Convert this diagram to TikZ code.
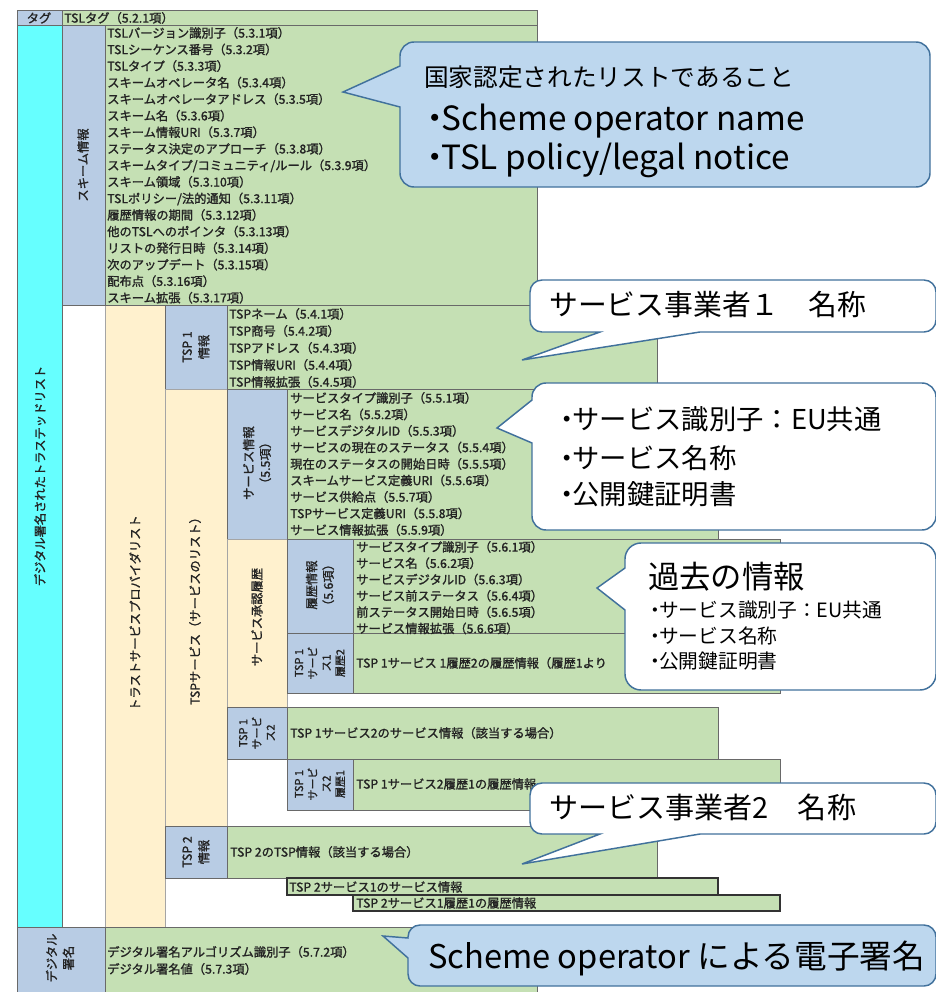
\documentclass[tikz,border=0pt]{standalone}
\usepackage{fontspec}
\setmainfont{Noto Sans CJK JP}
\newfontfamily\tabfont[FakeBold=1.4]{Noto Sans CJK JP}
\definecolor{cgreen}{RGB}{197,224,180}
\definecolor{clblue}{RGB}{184,204,228}
\definecolor{cbeige}{RGB}{255,241,206}
\definecolor{ccyan}{RGB}{102,255,255}
\definecolor{cline}{RGB}{105,105,105}
\definecolor{calfill}{RGB}{189,215,238}
\definecolor{caledge}{RGB}{65,113,156}
\definecolor{ctxt}{RGB}{35,35,35}
\newcommand{\dotb}{・\kern-.3em}
\begin{document}
\begin{tikzpicture}[x=0.75pt,y=-0.75pt,
  cellG/.style={fill=cgreen,draw=cline,line width=0.6pt},
  cellB/.style={fill=clblue,draw=cline,line width=0.6pt},
  cellY/.style={fill=cbeige,draw=cline!60,line width=0.5pt},
  cellC/.style={fill=ccyan,draw=cline,line width=0.6pt},
  cellDark/.style={fill=cgreen,draw=black!80,line width=1pt},
  item/.style={anchor=west,inner sep=0pt,text=ctxt,font=\tabfont\fontsize{9.2}{11}\selectfont,text height=6.9pt,text depth=0pt},
  vlab/.style={rotate=90,align=center,inner sep=0pt,text=ctxt,font=\tabfont\fontsize{9.2}{12.5}\selectfont},
  vlabs/.style={rotate=90,align=center,inner sep=0pt,text=ctxt,font=\tabfont\fontsize{8.2}{10.3}\selectfont},
  calB/.style={fill=calfill,draw=caledge,line width=1.1pt},
  calW/.style={fill=white,draw=caledge,line width=1.1pt},
  ctext/.style={anchor=west,inner sep=0pt,text=black}
]
\useasboundingbox (0,0) rectangle (935,992);
\fill[white] (0,0) rectangle (935,992);

% ---------- table cells ----------
\path[cellB] (17,10) rectangle (62,25);
\path[cellG] (62,10) rectangle (537,25);
\path[cellC] (17,25) rectangle (62,927);
\path[cellB] (62,25) rectangle (105,305);
\path[cellG] (105,25) rectangle (537,305);
\path[cellY] (105,305) rectangle (165,927);
\path[cellB] (165,305) rectangle (227,389);
\path[cellG] (227,305) rectangle (657,389);
\path[cellY] (165,389) rectangle (227,826);
\path[cellB] (227,389) rectangle (287,539);
\path[cellG] (287,389) rectangle (718,539);
\path[cellY] (227,539) rectangle (287,707);
\path[cellB] (287,539) rectangle (353,633);
\path[cellG] (353,539) rectangle (780,633);
\path[cellB] (287,633) rectangle (353,693);
\path[cellG] (353,633) rectangle (780,693);
\path[cellB] (227,707) rectangle (287,759);
\path[cellG] (287,707) rectangle (718,759);
\path[cellB] (287,759) rectangle (353,810);
\path[cellG] (353,759) rectangle (780,810);
\path[cellB] (165,826) rectangle (227,878);
\path[cellG] (227,826) rectangle (657,878);
\path[cellDark] (287,878) rectangle (718,895);
\path[cellDark] (353,895) rectangle (780,911);
\path[cellB] (17,927) rectangle (105,995);
\path[cellG] (105,927) rectangle (537,995);
\draw[cline,line width=0.6pt] (62,305) -- (537,305);

% ---------- labels ----------
\node[anchor=center,inner sep=0pt,text=ctxt,font=\tabfont\fontsize{9.2}{11}\selectfont] (tag) at (39,18) {タグ};
\node[item] (tsltag) at (64,18) {TSLタグ（5.2.1項）};
\node[vlab] (lcyan) at (40,476) {デジタル署名されたトラステッドリスト};
\node[vlab] (lscheme) at (83,165) {スキーム情報};
\node[vlab] (ltsplist) at (135,613) {トラストサービスプロバイダリスト};
\node[vlab] (ltsp1) at (196,347) {TSP 1\\情報};
\node[vlab] (ltspsvc) at (195,608) {TSPサービス（サービスのリスト）};
\node[vlab] (lsvc) at (257,463) {サービス情報\\（5.5項）};
\node[vlab] (lhistcol) at (257,617) {サービス承認履歴};
\node[vlab] (lhist) at (320,585) {履歴情報\\（5.6項）};
\node[vlabs] (lh2) at (320,663) {TSP 1\\サービ\\ス1\\履歴2};
\node[vlabs] (ls2) at (257,733) {TSP 1\\サービ\\ス2};
\node[vlabs] (ls2h) at (320,784) {TSP 1\\サービ\\ス2\\履歴1};
\node[vlab] (ltsp2) at (196,852) {TSP 2\\情報};
\node[vlab] (lsig) at (60,958) {デジタル\\署名};

% ---------- items ----------
\foreach \t [count=\i] in {
  {TSLバージョン識別子（5.3.1項）},
  {TSLシーケンス番号（5.3.2項）},
  {TSLタイプ（5.3.3項）},
  {スキームオペレータ名（5.3.4項）},
  {スキームオペレータアドレス（5.3.5項）},
  {スキーム名（5.3.6項）},
  {スキーム情報URI（5.3.7項）},
  {ステータス決定のアプローチ（5.3.8項）},
  {スキームタイプ/コミュニティ/ルール（5.3.9項）},
  {スキーム領域（5.3.10項）},
  {TSLポリシー/法的通知（5.3.11項）},
  {履歴情報の期間（5.3.12項）},
  {他のTSLへのポインタ（5.3.13項）},
  {リストの発行日時（5.3.14項）},
  {次のアップデート（5.3.15項）},
  {配布点（5.3.16項）},
  {スキーム拡張（5.3.17項）}}
  \node[item] (sc\i) at (107,{33+16.55*(\i-1)}) {\t};

\foreach \t [count=\i] in {
  {TSPネーム（5.4.1項）},
  {TSP商号（5.4.2項）},
  {TSPアドレス（5.4.3項）},
  {TSP情報URI（5.4.4項）},
  {TSP情報拡張（5.4.5項）}}
  \node[item] (tp\i) at (229,{314+17*(\i-1)}) {\t};

\foreach \t [count=\i] in {
  {サービスタイプ識別子（5.5.1項）},
  {サービス名（5.5.2項）},
  {サービスデジタルID（5.5.3項）},
  {サービスの現在のステータス（5.5.4項）},
  {現在のステータスの開始日時（5.5.5項）},
  {スキームサービス定義URI（5.5.6項）},
  {サービス供給点（5.5.7項）},
  {TSPサービス定義URI（5.5.8項）},
  {サービス情報拡張（5.5.9項）}}
  \node[item] (sv\i) at (290,{398+16.5*(\i-1)}) {\t};

\foreach \t [count=\i] in {
  {サービスタイプ識別子（5.6.1項）},
  {サービス名（5.6.2項）},
  {サービスデジタルID（5.6.3項）},
  {サービス前ステータス（5.6.4項）},
  {前ステータス開始日時（5.6.5項）},
  {サービス情報拡張（5.6.6項）}}
  \node[item] (hi\i) at (356,{547+16.3*(\i-1)}) {\t};

\node[item] (h2t) at (356,663) {TSP 1サービス 1履歴2の履歴情報（履歴1より};
\node[item] (s2t) at (290,733) {TSP 1サービス2のサービス情報（該当する場合）};
\node[item] (s2ht) at (356,784) {TSP 1サービス2履歴1の履歴情報};
\node[item] (tsp2t) at (230,852) {TSP 2のTSP情報（該当する場合）};
\node[item] (t2st) at (289,887) {TSP 2サービス1のサービス情報};
\node[item] (t2ht) at (356,903) {TSP 2サービス1履歴1の履歴情報};
\node[item] (sig1) at (107,952) {デジタル署名アルゴリズム識別子（5.7.2項）};
\node[item] (sig2) at (107,969) {デジタル署名値（5.7.3項）};

% ---------- callouts ----------
% 1 top
\draw[calB] (414,42) -- (916,42) arc[start angle=-90,end angle=0,radius=14] -- (930,173)
  arc[start angle=0,end angle=90,radius=14] -- (414,187) arc[start angle=90,end angle=180,radius=14]
  -- (400,107) -- (343,92) -- (400,66) -- (400,56) arc[start angle=180,end angle=270,radius=14] -- cycle;
\node[ctext,font=\fontsize{18.5}{20}\selectfont,text height=13.5pt,text depth=0pt] (c1a) at (424,77) {国家認定されたリストであること};
\node[ctext,font=\fontsize{25}{27}\selectfont,text height=18pt,text depth=0pt] (c1b) at (418,118) {\dotb Scheme operator name};
\node[ctext,font=\fontsize{25}{27}\selectfont,text height=18pt,text depth=0pt] (c1c) at (418,157) {\dotb TSL policy/legal notice};

% 2 service provider 1
\draw[calW] (542,280) -- (924,280) arc[start angle=-90,end angle=0,radius=12] -- (936,320)
  arc[start angle=0,end angle=90,radius=12] -- (700,332) -- (522,360) -- (600,332) -- (542,332)
  arc[start angle=90,end angle=180,radius=12] -- (530,292) arc[start angle=180,end angle=270,radius=12] -- cycle;
\node[ctext,font=\fontsize{21.6}{24}\selectfont,text height=16pt,text depth=0pt] (c2) at (549,305) {サービス事業者１　名称};

% 3 service info
\draw[calW] (546,383) -- (922,383) arc[start angle=-90,end angle=0,radius=14] -- (936,516)
  arc[start angle=0,end angle=90,radius=14] -- (546,530) arc[start angle=90,end angle=180,radius=14]
  -- (532,443) -- (497,428) -- (532,400) -- (532,397) arc[start angle=180,end angle=270,radius=14] -- cycle;
\node[ctext,font=\fontsize{20.5}{22}\selectfont,text height=15.4pt,text depth=0pt] (c3a) at (553,419) {\dotb サービス識別子：EU共通};
\node[ctext,font=\fontsize{20.5}{22}\selectfont,text height=15.4pt,text depth=0pt] (c3b) at (553,458) {\dotb サービス名称};
\node[ctext,font=\fontsize{20.5}{22}\selectfont,text height=15.4pt,text depth=0pt] (c3c) at (553,494) {\dotb 公開鍵証明書};

% 4 history
\draw[calW] (641,543) -- (920,543) arc[start angle=-90,end angle=0,radius=16] -- (936,674)
  arc[start angle=0,end angle=90,radius=16] -- (641,690) arc[start angle=90,end angle=180,radius=16]
  -- (625,610) -- (597,588) -- (625,568) -- (625,559) arc[start angle=180,end angle=270,radius=16] -- cycle;
\node[ctext,font=\fontsize{23.5}{25}\selectfont,text height=17.8pt,text depth=0pt] (c4a) at (648,577) {過去の情報};
\node[ctext,font=\fontsize{14.8}{16}\selectfont,text height=11.2pt,text depth=0pt] (c4b) at (645,610) {\dotb サービス識別子：EU共通};
\node[ctext,font=\fontsize{14.8}{16}\selectfont,text height=11.2pt,text depth=0pt] (c4c) at (645,636) {\dotb サービス名称};
\node[ctext,font=\fontsize{14.8}{16}\selectfont,text height=11.2pt,text depth=0pt] (c4d) at (645,661) {\dotb 公開鍵証明書};

% 5 service provider 2
\draw[calW] (542,783) -- (924,783) arc[start angle=-90,end angle=0,radius=12] -- (936,822)
  arc[start angle=0,end angle=90,radius=12] -- (700,834) -- (522,864) -- (600,834) -- (542,834)
  arc[start angle=90,end angle=180,radius=12] -- (530,795) arc[start angle=180,end angle=270,radius=12] -- cycle;
\node[ctext,font=\fontsize{21.8}{24}\selectfont,text height=16pt,text depth=0pt] (c5) at (549,808) {サービス事業者2　名称};

% 6 signature
\draw[calB] (420,925) -- (924,925) arc[start angle=-90,end angle=0,radius=12] -- (936,974)
  arc[start angle=0,end angle=90,radius=12] -- (420,986) arc[start angle=90,end angle=180,radius=12]
  -- (408,958) -- (383,936) -- (408,938) -- (408,937) arc[start angle=180,end angle=270,radius=12] -- cycle;
\node[ctext,font=\fontsize{24.5}{26}\selectfont,text height=18pt,text depth=0pt] (c6) at (428,956) {Scheme operator による電子署名};
\end{tikzpicture}
\end{document}
